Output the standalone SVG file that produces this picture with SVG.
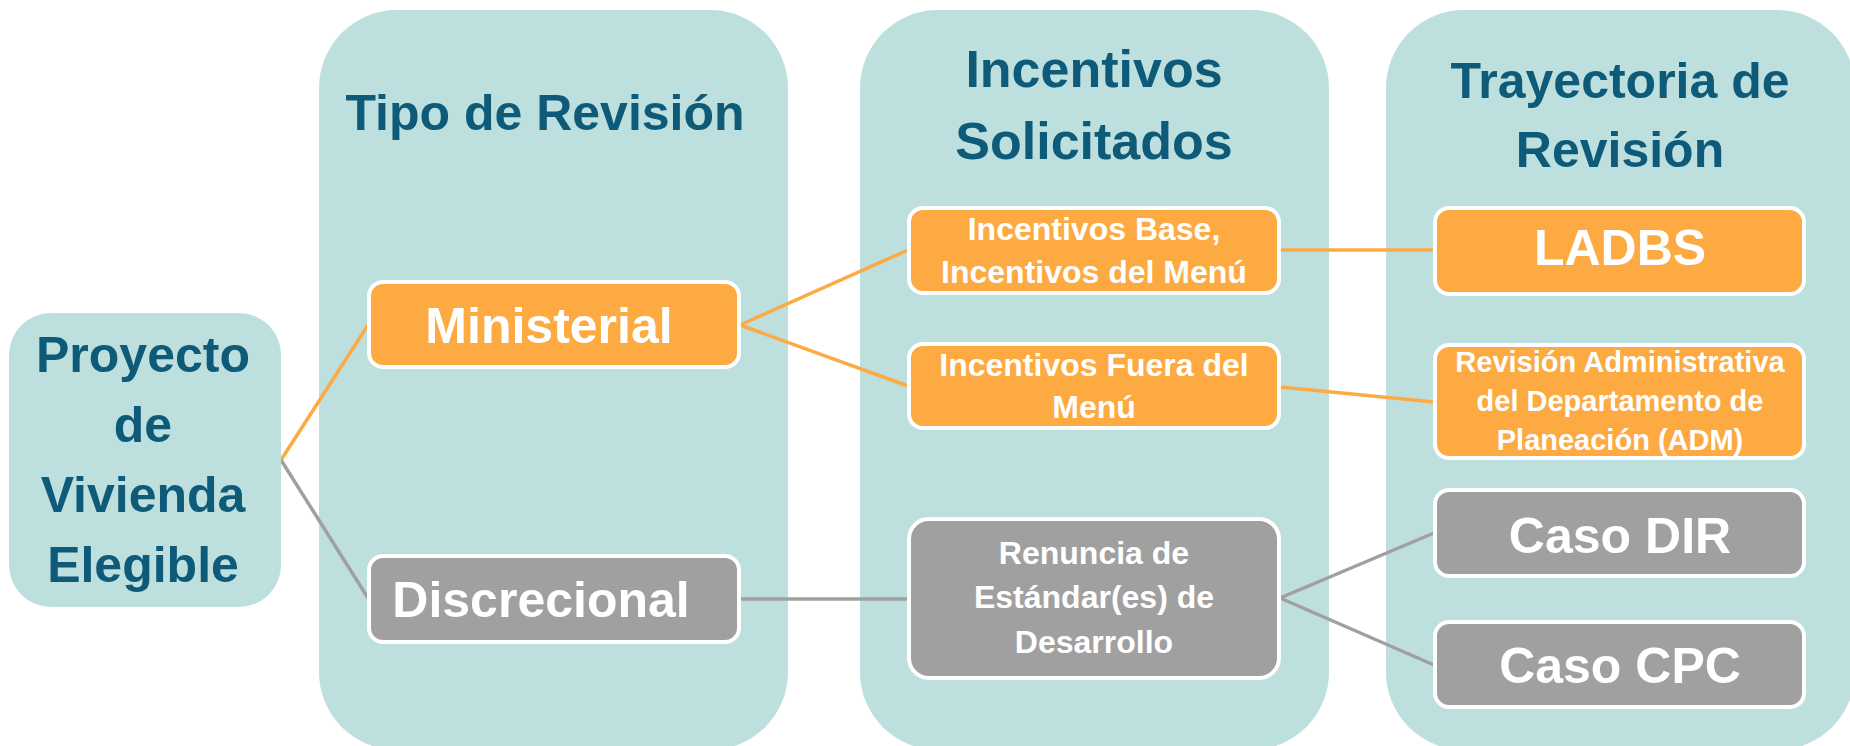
<svg xmlns="http://www.w3.org/2000/svg" width="1850" height="746" viewBox="0 0 1850 746">
<style>
.col{fill:#BDDFDE}
.title{font-family:"Liberation Sans",Arial,sans-serif;font-weight:bold;fill:#0D5A79;text-anchor:middle}
.ob{fill:#FDAA42;stroke:#FFFFFF;stroke-width:4}
.gb{fill:#A0A0A0;stroke:#FFFFFF;stroke-width:4}
.t{font-family:"Liberation Sans",Arial,sans-serif;font-weight:bold;fill:#FFFFFF;text-anchor:middle}
.lo{stroke:#FDAA42;stroke-width:3.5;fill:none}
.lg{stroke:#A0A0A0;stroke-width:3.5;fill:none}
</style>
<rect width="1850" height="746" fill="#FFFFFF"/>
<g id="col-tipo">
<rect class="col" x="319" y="10" width="469" height="740" rx="78" ry="78"/>
<text class="title" x="545" y="130" font-size="50">Tipo de Revisión</text>
</g>
<g id="col-incentivos">
<rect class="col" x="860" y="10" width="469" height="740" rx="78" ry="78"/>
<text class="title" x="1094" y="87" font-size="52">Incentivos</text>
<text class="title" x="1094" y="159" font-size="52">Solicitados</text>
</g>
<g id="col-trayectoria">
<rect class="col" x="1386" y="10" width="469" height="740" rx="78" ry="78"/>
<text class="title" x="1620" y="98" font-size="50">Trayectoria de</text>
<text class="title" x="1620" y="167" font-size="50">Revisión</text>
</g>
<g id="connectors">
<line class="lo" x1="281" y1="460" x2="368" y2="325"/>
<line class="lg" x1="281" y1="460" x2="368" y2="598"/>
<line class="lo" x1="740" y1="325" x2="908" y2="250"/>
<line class="lo" x1="740" y1="325" x2="908" y2="386"/>
<line class="lo" x1="1280" y1="250" x2="1434" y2="250"/>
<line class="lo" x1="1280" y1="387" x2="1434" y2="402"/>
<line class="lg" x1="740" y1="599" x2="908" y2="599"/>
<line class="lg" x1="1280" y1="598" x2="1434" y2="533"/>
<line class="lg" x1="1280" y1="598" x2="1434" y2="665"/>
</g>
<g id="proyecto">
<rect class="col" x="9" y="313" width="272" height="294" rx="42" ry="42"/>
<text class="title" x="143" y="372" font-size="50">Proyecto</text>
<text class="title" x="143" y="442" font-size="50">de</text>
<text class="title" x="143" y="512" font-size="50">Vivienda</text>
<text class="title" x="143" y="582" font-size="50">Elegible</text>
</g>
<g id="ministerial">
<rect class="ob" x="369" y="282" width="370" height="85" rx="14"/>
<text class="t" x="549" y="343" font-size="50">Ministerial</text>
</g>
<g id="discrecional">
<rect class="gb" x="369" y="556" width="370" height="86" rx="14"/>
<text class="t" x="541" y="617" font-size="50">Discrecional</text>
</g>
<g id="incentivos-base">
<rect class="ob" x="909" y="208" width="370" height="85" rx="14"/>
<text class="t" x="1094" y="240" font-size="32">Incentivos Base,</text>
<text class="t" x="1094" y="283" font-size="32">Incentivos del Menú</text>
</g>
<g id="incentivos-fuera">
<rect class="ob" x="909" y="344" width="370" height="84" rx="14"/>
<text class="t" x="1094" y="376" font-size="32">Incentivos Fuera del</text>
<text class="t" x="1094" y="418" font-size="32">Menú</text>
</g>
<g id="renuncia">
<rect class="gb" x="909" y="519" width="370" height="159" rx="20"/>
<text class="t" x="1094" y="564" font-size="32">Renuncia de</text>
<text class="t" x="1094" y="608" font-size="32">Estándar(es) de</text>
<text class="t" x="1094" y="653" font-size="32">Desarrollo</text>
</g>
<g id="ladbs">
<rect class="ob" x="1435" y="208" width="369" height="86" rx="14"/>
<text class="t" x="1620" y="265" font-size="50">LADBS</text>
</g>
<g id="adm">
<rect class="ob" x="1435" y="345" width="369" height="113" rx="14"/>
<text class="t" x="1620" y="372" font-size="29">Revisión Administrativa</text>
<text class="t" x="1620" y="411" font-size="29">del Departamento de</text>
<text class="t" x="1620" y="450" font-size="29">Planeación (ADM)</text>
</g>
<g id="caso-dir">
<rect class="gb" x="1435" y="490" width="369" height="86" rx="14"/>
<text class="t" x="1620" y="553" font-size="50">Caso DIR</text>
</g>
<g id="caso-cpc">
<rect class="gb" x="1435" y="622" width="369" height="85" rx="14"/>
<text class="t" x="1620" y="683" font-size="50">Caso CPC</text>
</g>
</svg>
